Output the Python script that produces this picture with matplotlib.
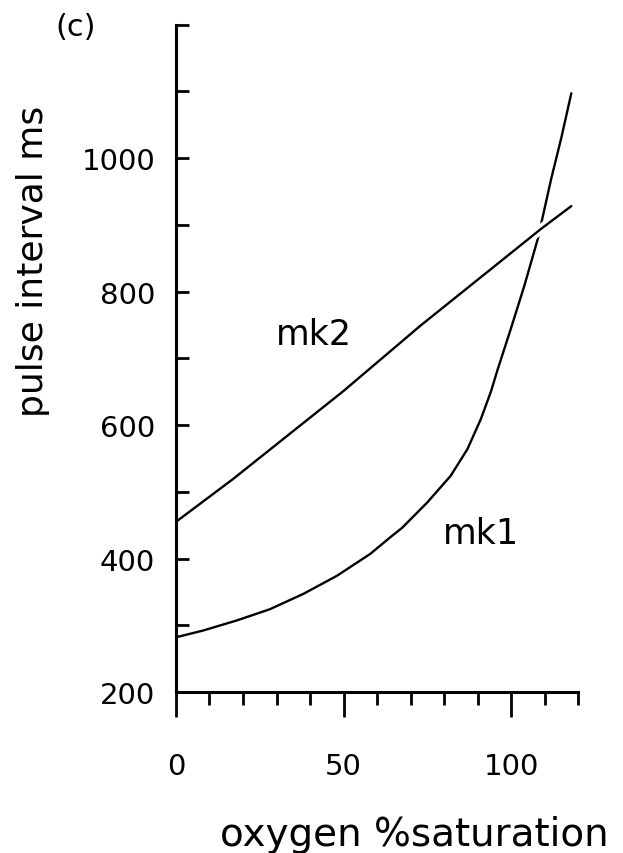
import matplotlib
matplotlib.use("Agg")
import matplotlib.pyplot as plt
import matplotlib.patheffects as pe
from matplotlib.ticker import FixedLocator

# ---- data ----
mk1_x = [0, 8, 18, 28, 38, 48, 58, 64, 67.5, 75, 82, 87, 91, 94, 96, 100, 104, 108, 112, 115, 118]
mk1_y = [282, 292, 307, 324, 347, 374, 407, 432, 446, 484, 524, 564, 609, 650, 683, 745, 809, 879, 969, 1030, 1097]

mk2_x = [0, 17, 50, 73, 109, 118]
mk2_y = [455, 519, 651, 749, 894, 928]

x_major = [0, 50, 100]
x_minor = [10, 20, 30, 40, 60, 70, 80, 90, 110, 120]
y_major = [200, 400, 600, 800, 1000]
y_minor = [300, 500, 700, 900, 1100, 1200]

plt.rcParams['font.family'] = ['DejaVu Sans']

fig = plt.figure(figsize=(6.23, 8.54), dpi=100)
ax = fig.add_axes([0.2825, 0.1885, 0.6453, 0.7816])

ax.plot(mk1_x, mk1_y, color='black', lw=1.7, solid_capstyle='round', zorder=2)
ax.plot(mk2_x, mk2_y, color='black', lw=1.7, solid_capstyle='round', zorder=3,
        path_effects=[pe.Stroke(linewidth=7, foreground='white'), pe.Normal()])

ax.set_xlim(0, 120)
ax.set_ylim(200, 1200)

for s in ['top', 'right']:
    ax.spines[s].set_visible(False)
for s in ['left', 'bottom']:
    ax.spines[s].set_linewidth(2.2)
    ax.spines[s].set_zorder(4)

ax.xaxis.set_major_locator(FixedLocator(x_major))
ax.xaxis.set_minor_locator(FixedLocator(x_minor))
ax.yaxis.set_major_locator(FixedLocator(y_major))
ax.yaxis.set_minor_locator(FixedLocator(y_minor))

ax.tick_params(axis='x', which='major', direction='out', length=18, width=2.0,
               labelsize=21, pad=25)
ax.tick_params(axis='x', which='minor', direction='out', length=9.5, width=2.0)
ax.tick_params(axis='y', which='both', direction='in', length=9.5, width=2.0,
               labelsize=21, pad=15)

ax.set_xlabel('oxygen %saturation', fontsize=28)
ax.xaxis.set_label_coords(0.592, -0.2127)
ax.xaxis.label.set_va('center')

ax.set_ylabel('pulse interval ms', fontsize=26)
ax.yaxis.set_label_coords(-0.356, 0.646)
ax.yaxis.label.set_va('center')

ax.text(41.2, 736, 'mk2', fontsize=25, ha='center', va='center')
ax.text(91, 438, 'mk1', fontsize=25, ha='center', va='center')

fig.text(76 / 623, 1 - 28 / 854, '(c)', fontsize=22, ha='center', va='center')

fig.savefig('out.png', dpi=100, facecolor='white')
